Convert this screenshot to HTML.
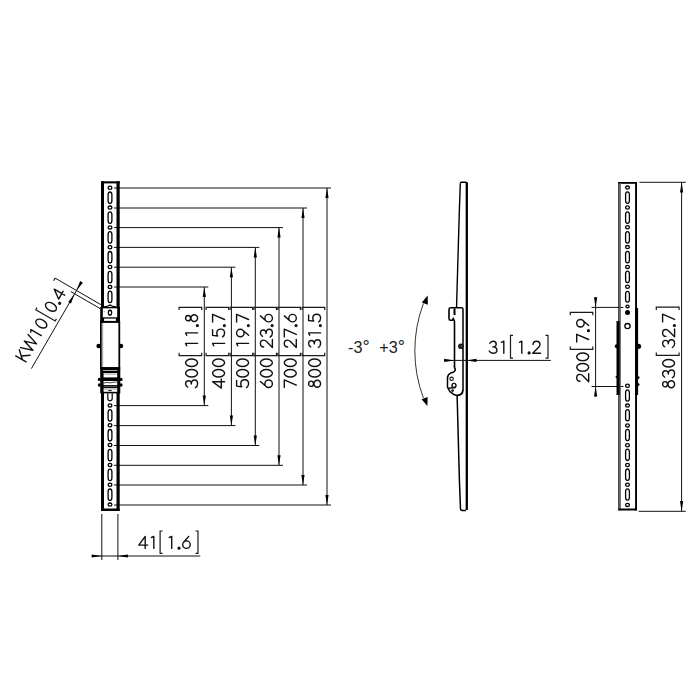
<!DOCTYPE html>
<html><head><meta charset="utf-8"><style>
html,body{margin:0;padding:0;background:#fff;}
svg{display:block;font-family:"Liberation Sans",sans-serif;font-kerning:none;}
</style></head><body>
<svg width="700" height="700" viewBox="0 0 700 700">
<rect width="700" height="700" fill="#fff"/>
<line x1="114" y1="188.0" x2="331.0" y2="188.0" stroke="#111" stroke-width="1"/>
<line x1="114" y1="505.0" x2="331.0" y2="505.0" stroke="#111" stroke-width="1"/>
<line x1="327.0" y1="188.0" x2="327.0" y2="505.0" stroke="#111" stroke-width="1"/>
<path d="M327.00,188.00 L328.60,198.00 L325.40,198.00 Z" fill="#000"/>
<path d="M327.00,505.00 L325.40,495.00 L328.60,495.00 Z" fill="#000"/>
<line x1="114" y1="208.0" x2="307.0" y2="208.0" stroke="#111" stroke-width="1"/>
<line x1="114" y1="485.0" x2="307.0" y2="485.0" stroke="#111" stroke-width="1"/>
<line x1="303.0" y1="208.0" x2="303.0" y2="485.0" stroke="#111" stroke-width="1"/>
<path d="M303.00,208.00 L304.60,218.00 L301.40,218.00 Z" fill="#000"/>
<path d="M303.00,485.00 L301.40,475.00 L304.60,475.00 Z" fill="#000"/>
<line x1="114" y1="227.6" x2="283.0" y2="227.6" stroke="#111" stroke-width="1"/>
<line x1="114" y1="465.3" x2="283.0" y2="465.3" stroke="#111" stroke-width="1"/>
<line x1="279.0" y1="227.6" x2="279.0" y2="465.3" stroke="#111" stroke-width="1"/>
<path d="M279.00,227.60 L280.60,237.60 L277.40,237.60 Z" fill="#000"/>
<path d="M279.00,465.30 L277.40,455.30 L280.60,455.30 Z" fill="#000"/>
<line x1="114" y1="247.4" x2="259.3" y2="247.4" stroke="#111" stroke-width="1"/>
<line x1="114" y1="445.5" x2="259.3" y2="445.5" stroke="#111" stroke-width="1"/>
<line x1="255.3" y1="247.4" x2="255.3" y2="445.5" stroke="#111" stroke-width="1"/>
<path d="M255.30,247.40 L256.90,257.40 L253.70,257.40 Z" fill="#000"/>
<path d="M255.30,445.50 L253.70,435.50 L256.90,435.50 Z" fill="#000"/>
<line x1="114" y1="267.2" x2="235.4" y2="267.2" stroke="#111" stroke-width="1"/>
<line x1="114" y1="425.6" x2="235.4" y2="425.6" stroke="#111" stroke-width="1"/>
<line x1="231.4" y1="267.2" x2="231.4" y2="425.6" stroke="#111" stroke-width="1"/>
<path d="M231.40,267.20 L233.00,277.20 L229.80,277.20 Z" fill="#000"/>
<path d="M231.40,425.60 L229.80,415.60 L233.00,415.60 Z" fill="#000"/>
<line x1="114" y1="287.0" x2="208.3" y2="287.0" stroke="#111" stroke-width="1"/>
<line x1="114" y1="405.6" x2="208.3" y2="405.6" stroke="#111" stroke-width="1"/>
<line x1="204.3" y1="287.0" x2="204.3" y2="405.6" stroke="#111" stroke-width="1"/>
<path d="M204.30,287.00 L205.90,297.00 L202.70,297.00 Z" fill="#000"/>
<path d="M204.30,405.60 L202.70,395.60 L205.90,395.60 Z" fill="#000"/>
<rect x="101" y="181.3" width="18.7" height="2.1" fill="#000"/>
<rect x="101" y="181.3" width="3" height="127" fill="#000"/>
<rect x="116.5" y="181.3" width="3.2" height="127" fill="#000"/>
<rect x="101" y="393" width="3" height="118" fill="#000"/>
<rect x="116.5" y="393" width="3.2" height="118" fill="#000"/>
<rect x="101" y="508.6" width="18.7" height="2.4" rx="1" fill="#000"/>
<ellipse cx="110" cy="187.7" rx="1.9" ry="1.615" fill="#fff" stroke="#000" stroke-width="1.3"/>
<rect x="108.1" y="192.0" width="3.8" height="11.5" rx="1.9" ry="2.9" fill="#fff" stroke="#000" stroke-width="1.3"/>
<ellipse cx="110" cy="207.6" rx="1.9" ry="1.615" fill="#fff" stroke="#000" stroke-width="1.3"/>
<rect x="108.1" y="211.9" width="3.8" height="11.5" rx="1.9" ry="2.9" fill="#fff" stroke="#000" stroke-width="1.3"/>
<ellipse cx="110" cy="227.4" rx="1.9" ry="1.615" fill="#fff" stroke="#000" stroke-width="1.3"/>
<rect x="108.1" y="231.70000000000002" width="3.8" height="11.5" rx="1.9" ry="2.9" fill="#fff" stroke="#000" stroke-width="1.3"/>
<ellipse cx="110" cy="247.2" rx="1.9" ry="1.615" fill="#fff" stroke="#000" stroke-width="1.3"/>
<rect x="108.1" y="251.5" width="3.8" height="11.5" rx="1.9" ry="2.9" fill="#fff" stroke="#000" stroke-width="1.3"/>
<ellipse cx="110" cy="267.0" rx="1.9" ry="1.615" fill="#fff" stroke="#000" stroke-width="1.3"/>
<rect x="108.1" y="271.3" width="3.8" height="11.5" rx="1.9" ry="2.9" fill="#fff" stroke="#000" stroke-width="1.3"/>
<ellipse cx="110" cy="286.9" rx="1.9" ry="1.615" fill="#fff" stroke="#000" stroke-width="1.3"/>
<rect x="108.1" y="291.2" width="3.8" height="11.5" rx="1.9" ry="2.9" fill="#fff" stroke="#000" stroke-width="1.3"/>
<ellipse cx="110" cy="405.4" rx="1.9" ry="1.615" fill="#fff" stroke="#000" stroke-width="1.3"/>
<ellipse cx="110" cy="425.2" rx="1.9" ry="1.615" fill="#fff" stroke="#000" stroke-width="1.3"/>
<ellipse cx="110" cy="445.0" rx="1.9" ry="1.615" fill="#fff" stroke="#000" stroke-width="1.3"/>
<ellipse cx="110" cy="464.9" rx="1.9" ry="1.615" fill="#fff" stroke="#000" stroke-width="1.3"/>
<ellipse cx="110" cy="484.7" rx="1.9" ry="1.615" fill="#fff" stroke="#000" stroke-width="1.3"/>
<ellipse cx="110" cy="504.6" rx="1.9" ry="1.615" fill="#fff" stroke="#000" stroke-width="1.3"/>
<rect x="108.1" y="409.7" width="3.8" height="11.5" rx="1.9" ry="2.9" fill="#fff" stroke="#000" stroke-width="1.3"/>
<rect x="108.1" y="429.5" width="3.8" height="11.5" rx="1.9" ry="2.9" fill="#fff" stroke="#000" stroke-width="1.3"/>
<rect x="108.1" y="449.3" width="3.8" height="11.5" rx="1.9" ry="2.9" fill="#fff" stroke="#000" stroke-width="1.3"/>
<rect x="108.1" y="469.2" width="3.8" height="11.5" rx="1.9" ry="2.9" fill="#fff" stroke="#000" stroke-width="1.3"/>
<rect x="108.1" y="489.0" width="3.8" height="11.5" rx="1.9" ry="2.9" fill="#fff" stroke="#000" stroke-width="1.3"/>
<path d="M107.8,393.4 L107.8,398.6 A2.2,2.2 0 0 0 112.2,398.6 L112.2,393.4" fill="#fff" stroke="#000" stroke-width="1.2"/>
<path d="M103.8,306.8 Q108,306.5 110,304.9 Q112,306.5 116.2,306.8" fill="none" stroke="#000" stroke-width="1.3"/>
<rect x="100.2" y="306.9" width="19.8" height="15.3" fill="#000"/>
<rect x="102.8" y="308.3" width="14.4" height="9.0" fill="#fff"/>
<rect x="104.1" y="318.6" width="11.8" height="2.3" fill="#fff"/>
<ellipse cx="110" cy="312.7" rx="1.65" ry="2.45" fill="none" stroke="#000" stroke-width="1.3"/>
<path d="M104.0,311.2 L104.6,312.2" stroke="#555" stroke-width="0.8"/>
<rect x="100.9" y="322" width="18.4" height="46" fill="#fff" stroke="#000" stroke-width="1.8"/>
<rect x="101.8" y="323" width="1.4" height="44" fill="#aaa"/>
<circle cx="98.6" cy="346" r="2.2" fill="#000"/>
<circle cx="121.0" cy="346" r="2.2" fill="#000"/>
<rect x="100.2" y="367.4" width="20.1" height="26.0" fill="#000"/>
<rect x="103.0" y="370.1" width="14.4" height="0.9" fill="#bbb"/>
<rect x="103.6" y="373.1" width="13.6" height="4.3" fill="#fff"/>
<rect x="104.5" y="373.8" width="12" height="0.7" fill="#888"/>
<rect x="103.6" y="381.0" width="13.6" height="4.1" fill="#fff"/>
<path d="M103.6,383.2 Q106,382.0 108,382.6 T113,382.4 T117.2,382.2" fill="none" stroke="#333" stroke-width="0.9"/>
<rect x="103.6" y="386.5" width="13.6" height="0.6" fill="#999"/>
<rect x="103.6" y="388.2" width="13.6" height="3.6" fill="#fff"/>
<rect x="104" y="388.8" width="12.8" height="0.7" fill="#999"/>
<rect x="108.3" y="390.0" width="3.4" height="1.1" fill="#222"/>
<ellipse cx="99.3" cy="379.4" rx="1.5" ry="1.7" fill="#000"/><ellipse cx="121.1" cy="379.4" rx="1.5" ry="1.7" fill="#000"/>
<ellipse cx="99.3" cy="385.0" rx="1.5" ry="1.7" fill="#000"/><ellipse cx="121.1" cy="385.0" rx="1.5" ry="1.7" fill="#000"/>
<g transform="translate(198.20000000000002,389.0) rotate(-90)"><g aria-label="300" fill="none" stroke="#111" stroke-width="1.4" stroke-linecap="round" stroke-linejoin="round"><path transform="translate(0.00,0) scale(1.0)" d="M1.9,-10.5 C2.5,-11.8 3.7,-12.6 5.2,-12.6 C7.0,-12.6 8.3,-11.3 8.3,-9.6 C8.3,-7.9 6.9,-6.9 4.9,-6.9 C7.5,-6.9 9.0,-5.4 9.0,-3.6 C9.0,-1.7 7.4,-0.62 5.2,-0.62 C3.4,-0.62 2.0,-1.4 1.3,-2.8"/><path transform="translate(10.50,0) scale(1.0)" d="M1.45,-6.61 A3.80,5.99 0 1 0 9.05,-6.61 A3.80,5.99 0 1 0 1.45,-6.61 Z"/><path transform="translate(21.00,0) scale(1.0)" d="M1.45,-6.61 A3.80,5.99 0 1 0 9.05,-6.61 A3.80,5.99 0 1 0 1.45,-6.61 Z"/></g></g>
<g transform="translate(198.20000000000002,348.8) rotate(-90)"><g aria-label="11.8" fill="none" stroke="#111" stroke-width="1.4" stroke-linecap="round" stroke-linejoin="round"><path transform="translate(0.00,0) scale(1.0)" d="M5.4,-0.62 L5.4,-12.6 L3.0,-11.5"/><path transform="translate(10.50,0) scale(1.0)" d="M5.4,-0.62 L5.4,-12.6 L3.0,-11.5"/><circle cx="23.20" cy="-0.85" r="0.90" fill="#111"/><path transform="translate(25.40,0) scale(1.0)" d="M2.60,-10.15 A2.65,2.45 0 1 0 7.90,-10.15 A2.65,2.45 0 1 0 2.60,-10.15 Z M1.80,-3.95 A3.45,3.33 0 1 0 8.70,-3.95 A3.45,3.33 0 1 0 1.80,-3.95 Z"/></g></g>
<path d="M179.10000000000002,310.1 L179.10000000000002,307.3 L201.70000000000002,307.3 L201.70000000000002,310.1" fill="none" stroke="#1a1a1a" stroke-width="1.2"/>
<path d="M179.10000000000002,352.8 L179.10000000000002,355.6 L201.70000000000002,355.6 L201.70000000000002,352.8" fill="none" stroke="#1a1a1a" stroke-width="1.2"/>
<g transform="translate(225.20000000000002,389.0) rotate(-90)"><g aria-label="400" fill="none" stroke="#111" stroke-width="1.4" stroke-linecap="round" stroke-linejoin="round"><path transform="translate(0.00,0) scale(1.0)" d="M7.3,-0.62 L7.3,-12.6 L0.9,-3.9 L9.9,-3.9"/><path transform="translate(10.50,0) scale(1.0)" d="M1.45,-6.61 A3.80,5.99 0 1 0 9.05,-6.61 A3.80,5.99 0 1 0 1.45,-6.61 Z"/><path transform="translate(21.00,0) scale(1.0)" d="M1.45,-6.61 A3.80,5.99 0 1 0 9.05,-6.61 A3.80,5.99 0 1 0 1.45,-6.61 Z"/></g></g>
<g transform="translate(225.20000000000002,348.8) rotate(-90)"><g aria-label="15.7" fill="none" stroke="#111" stroke-width="1.4" stroke-linecap="round" stroke-linejoin="round"><path transform="translate(0.00,0) scale(1.0)" d="M5.4,-0.62 L5.4,-12.6 L3.0,-11.5"/><path transform="translate(10.50,0) scale(1.0)" d="M8.5,-12.6 L2.9,-12.6 L2.3,-7.5 C3.1,-8.1 4.2,-8.4 5.3,-8.4 C7.6,-8.4 9.2,-6.7 9.2,-4.5 C9.2,-2.2 7.5,-0.62 5.2,-0.62 C3.5,-0.62 2.2,-1.4 1.4,-2.6"/><circle cx="23.20" cy="-0.85" r="0.90" fill="#111"/><path transform="translate(25.40,0) scale(1.0)" d="M1.4,-12.6 L9.1,-12.6 L3.9,-0.62"/></g></g>
<path d="M206.10000000000002,310.1 L206.10000000000002,307.3 L228.70000000000002,307.3 L228.70000000000002,310.1" fill="none" stroke="#1a1a1a" stroke-width="1.2"/>
<path d="M206.10000000000002,352.8 L206.10000000000002,355.6 L228.70000000000002,355.6 L228.70000000000002,352.8" fill="none" stroke="#1a1a1a" stroke-width="1.2"/>
<g transform="translate(249.20000000000002,389.0) rotate(-90)"><g aria-label="500" fill="none" stroke="#111" stroke-width="1.4" stroke-linecap="round" stroke-linejoin="round"><path transform="translate(0.00,0) scale(1.0)" d="M8.5,-12.6 L2.9,-12.6 L2.3,-7.5 C3.1,-8.1 4.2,-8.4 5.3,-8.4 C7.6,-8.4 9.2,-6.7 9.2,-4.5 C9.2,-2.2 7.5,-0.62 5.2,-0.62 C3.5,-0.62 2.2,-1.4 1.4,-2.6"/><path transform="translate(10.50,0) scale(1.0)" d="M1.45,-6.61 A3.80,5.99 0 1 0 9.05,-6.61 A3.80,5.99 0 1 0 1.45,-6.61 Z"/><path transform="translate(21.00,0) scale(1.0)" d="M1.45,-6.61 A3.80,5.99 0 1 0 9.05,-6.61 A3.80,5.99 0 1 0 1.45,-6.61 Z"/></g></g>
<g transform="translate(249.20000000000002,348.8) rotate(-90)"><g aria-label="19.7" fill="none" stroke="#111" stroke-width="1.4" stroke-linecap="round" stroke-linejoin="round"><path transform="translate(0.00,0) scale(1.0)" d="M5.4,-0.62 L5.4,-12.6 L3.0,-11.5"/><path transform="translate(10.50,0) scale(1.0)" d="M1.50,-8.87 A3.75,3.75 0 1 0 9.00,-8.87 A3.75,3.75 0 1 0 1.50,-8.87 Z M3.0,-0.62 L8.07,-6.40"/><circle cx="23.20" cy="-0.85" r="0.90" fill="#111"/><path transform="translate(25.40,0) scale(1.0)" d="M1.4,-12.6 L9.1,-12.6 L3.9,-0.62"/></g></g>
<path d="M230.10000000000002,310.1 L230.10000000000002,307.3 L252.70000000000002,307.3 L252.70000000000002,310.1" fill="none" stroke="#1a1a1a" stroke-width="1.2"/>
<path d="M230.10000000000002,352.8 L230.10000000000002,355.6 L252.70000000000002,355.6 L252.70000000000002,352.8" fill="none" stroke="#1a1a1a" stroke-width="1.2"/>
<g transform="translate(273.0,389.0) rotate(-90)"><g aria-label="600" fill="none" stroke="#111" stroke-width="1.4" stroke-linecap="round" stroke-linejoin="round"><path transform="translate(0.00,0) scale(1.0)" d="M1.50,-4.35 A3.75,3.75 0 1 0 9.00,-4.35 A3.75,3.75 0 1 0 1.50,-4.35 Z M7.5,-12.6 L2.43,-6.82"/><path transform="translate(10.50,0) scale(1.0)" d="M1.45,-6.61 A3.80,5.99 0 1 0 9.05,-6.61 A3.80,5.99 0 1 0 1.45,-6.61 Z"/><path transform="translate(21.00,0) scale(1.0)" d="M1.45,-6.61 A3.80,5.99 0 1 0 9.05,-6.61 A3.80,5.99 0 1 0 1.45,-6.61 Z"/></g></g>
<g transform="translate(273.0,348.8) rotate(-90)"><g aria-label="23.6" fill="none" stroke="#111" stroke-width="1.4" stroke-linecap="round" stroke-linejoin="round"><path transform="translate(0.00,0) scale(1.0)" d="M1.8,-9.3 C1.8,-11.3 3.3,-12.6 5.25,-12.6 C7.2,-12.6 8.7,-11.2 8.7,-9.3 C8.7,-8.2 8.2,-7.4 7.3,-6.5 L1.4,-0.62 L9.3,-0.62"/><path transform="translate(10.50,0) scale(1.0)" d="M1.9,-10.5 C2.5,-11.8 3.7,-12.6 5.2,-12.6 C7.0,-12.6 8.3,-11.3 8.3,-9.6 C8.3,-7.9 6.9,-6.9 4.9,-6.9 C7.5,-6.9 9.0,-5.4 9.0,-3.6 C9.0,-1.7 7.4,-0.62 5.2,-0.62 C3.4,-0.62 2.0,-1.4 1.3,-2.8"/><circle cx="23.20" cy="-0.85" r="0.90" fill="#111"/><path transform="translate(25.40,0) scale(1.0)" d="M1.50,-4.35 A3.75,3.75 0 1 0 9.00,-4.35 A3.75,3.75 0 1 0 1.50,-4.35 Z M7.5,-12.6 L2.43,-6.82"/></g></g>
<path d="M253.90000000000003,310.1 L253.90000000000003,307.3 L276.5,307.3 L276.5,310.1" fill="none" stroke="#1a1a1a" stroke-width="1.2"/>
<path d="M253.90000000000003,352.8 L253.90000000000003,355.6 L276.5,355.6 L276.5,352.8" fill="none" stroke="#1a1a1a" stroke-width="1.2"/>
<g transform="translate(296.9,389.0) rotate(-90)"><g aria-label="700" fill="none" stroke="#111" stroke-width="1.4" stroke-linecap="round" stroke-linejoin="round"><path transform="translate(0.00,0) scale(1.0)" d="M1.4,-12.6 L9.1,-12.6 L3.9,-0.62"/><path transform="translate(10.50,0) scale(1.0)" d="M1.45,-6.61 A3.80,5.99 0 1 0 9.05,-6.61 A3.80,5.99 0 1 0 1.45,-6.61 Z"/><path transform="translate(21.00,0) scale(1.0)" d="M1.45,-6.61 A3.80,5.99 0 1 0 9.05,-6.61 A3.80,5.99 0 1 0 1.45,-6.61 Z"/></g></g>
<g transform="translate(296.9,348.8) rotate(-90)"><g aria-label="27.6" fill="none" stroke="#111" stroke-width="1.4" stroke-linecap="round" stroke-linejoin="round"><path transform="translate(0.00,0) scale(1.0)" d="M1.8,-9.3 C1.8,-11.3 3.3,-12.6 5.25,-12.6 C7.2,-12.6 8.7,-11.2 8.7,-9.3 C8.7,-8.2 8.2,-7.4 7.3,-6.5 L1.4,-0.62 L9.3,-0.62"/><path transform="translate(10.50,0) scale(1.0)" d="M1.4,-12.6 L9.1,-12.6 L3.9,-0.62"/><circle cx="23.20" cy="-0.85" r="0.90" fill="#111"/><path transform="translate(25.40,0) scale(1.0)" d="M1.50,-4.35 A3.75,3.75 0 1 0 9.00,-4.35 A3.75,3.75 0 1 0 1.50,-4.35 Z M7.5,-12.6 L2.43,-6.82"/></g></g>
<path d="M277.8,310.1 L277.8,307.3 L300.4,307.3 L300.4,310.1" fill="none" stroke="#1a1a1a" stroke-width="1.2"/>
<path d="M277.8,352.8 L277.8,355.6 L300.4,355.6 L300.4,352.8" fill="none" stroke="#1a1a1a" stroke-width="1.2"/>
<g transform="translate(321.2,389.0) rotate(-90)"><g aria-label="800" fill="none" stroke="#111" stroke-width="1.4" stroke-linecap="round" stroke-linejoin="round"><path transform="translate(0.00,0) scale(1.0)" d="M2.60,-10.15 A2.65,2.45 0 1 0 7.90,-10.15 A2.65,2.45 0 1 0 2.60,-10.15 Z M1.80,-3.95 A3.45,3.33 0 1 0 8.70,-3.95 A3.45,3.33 0 1 0 1.80,-3.95 Z"/><path transform="translate(10.50,0) scale(1.0)" d="M1.45,-6.61 A3.80,5.99 0 1 0 9.05,-6.61 A3.80,5.99 0 1 0 1.45,-6.61 Z"/><path transform="translate(21.00,0) scale(1.0)" d="M1.45,-6.61 A3.80,5.99 0 1 0 9.05,-6.61 A3.80,5.99 0 1 0 1.45,-6.61 Z"/></g></g>
<g transform="translate(321.2,348.8) rotate(-90)"><g aria-label="31.5" fill="none" stroke="#111" stroke-width="1.4" stroke-linecap="round" stroke-linejoin="round"><path transform="translate(0.00,0) scale(1.0)" d="M1.9,-10.5 C2.5,-11.8 3.7,-12.6 5.2,-12.6 C7.0,-12.6 8.3,-11.3 8.3,-9.6 C8.3,-7.9 6.9,-6.9 4.9,-6.9 C7.5,-6.9 9.0,-5.4 9.0,-3.6 C9.0,-1.7 7.4,-0.62 5.2,-0.62 C3.4,-0.62 2.0,-1.4 1.3,-2.8"/><path transform="translate(10.50,0) scale(1.0)" d="M5.4,-0.62 L5.4,-12.6 L3.0,-11.5"/><circle cx="23.20" cy="-0.85" r="0.90" fill="#111"/><path transform="translate(25.40,0) scale(1.0)" d="M8.5,-12.6 L2.9,-12.6 L2.3,-7.5 C3.1,-8.1 4.2,-8.4 5.3,-8.4 C7.6,-8.4 9.2,-6.7 9.2,-4.5 C9.2,-2.2 7.5,-0.62 5.2,-0.62 C3.5,-0.62 2.2,-1.4 1.4,-2.6"/></g></g>
<path d="M302.1,310.1 L302.1,307.3 L324.7,307.3 L324.7,310.1" fill="none" stroke="#1a1a1a" stroke-width="1.2"/>
<path d="M302.1,352.8 L302.1,355.6 L324.7,355.6 L324.7,352.8" fill="none" stroke="#1a1a1a" stroke-width="1.2"/>
<line x1="101.8" y1="514" x2="101.8" y2="560" stroke="#111" stroke-width="1"/>
<line x1="117.9" y1="514" x2="117.9" y2="560" stroke="#111" stroke-width="1"/>
<line x1="91.5" y1="556" x2="200.3" y2="556" stroke="#111" stroke-width="1"/>
<path d="M101.80,556.00 L91.80,557.60 L91.80,554.40 Z" fill="#000"/>
<path d="M117.90,556.00 L127.90,554.40 L127.90,557.60 Z" fill="#000"/>
<g transform="translate(137.9,549.0)"><g aria-label="41" fill="none" stroke="#111" stroke-width="1.4" stroke-linecap="round" stroke-linejoin="round"><path transform="translate(0.00,0) scale(1.0)" d="M7.3,-0.62 L7.3,-12.6 L0.9,-3.9 L9.9,-3.9"/><path transform="translate(10.50,0) scale(1.0)" d="M5.4,-0.62 L5.4,-12.6 L3.0,-11.5"/></g></g>
<g transform="translate(166.3,549.0)"><g aria-label="1.6" fill="none" stroke="#111" stroke-width="1.4" stroke-linecap="round" stroke-linejoin="round"><path transform="translate(0.00,0) scale(1.0)" d="M5.4,-0.62 L5.4,-12.6 L3.0,-11.5"/><circle cx="12.70" cy="-0.85" r="0.90" fill="#111"/><path transform="translate(14.90,0) scale(1.0)" d="M1.50,-4.35 A3.75,3.75 0 1 0 9.00,-4.35 A3.75,3.75 0 1 0 1.50,-4.35 Z M7.5,-12.6 L2.43,-6.82"/></g></g>
<path d="M162.6,531.0 L160.1,531.0 L160.1,553.3 L162.6,553.3" fill="none" stroke="#1a1a1a" stroke-width="1.2"/>
<path d="M195.5,531.0 L198.0,531.0 L198.0,553.3 L195.5,553.3" fill="none" stroke="#1a1a1a" stroke-width="1.2"/>
<line x1="31.4" y1="368.6" x2="81.4" y2="282.1" stroke="#111" stroke-width="1"/>
<line x1="55.1" y1="278.1" x2="100.8" y2="304.6" stroke="#111" stroke-width="1"/>
<path d="M55.1,278.1 L53.6,280.7" stroke="#1a1a1a" stroke-width="1.2"/>
<line x1="70.8" y1="291.6" x2="100.0" y2="308.5" stroke="#111" stroke-width="1"/>
<path d="M76.50,290.60 L80.11,281.10 L82.89,282.70 Z" fill="#000"/>
<path d="M74.60,294.00 L70.99,303.50 L68.21,301.90 Z" fill="#000"/>
<g transform="translate(31.4,368.6) rotate(-60)">
<g transform="translate(1.6,-7.3)"><g aria-label="KW10" fill="none" stroke="#111" stroke-width="1.4" stroke-linecap="round" stroke-linejoin="round"><path transform="translate(0.00,0) scale(1.0)" d="M1.5,-0.62 L1.5,-12.6 M8.7,-12.6 L1.5,-4.9 M4.3,-7.6 L9.3,-0.62"/><path transform="translate(10.80,0) scale(1.0)" d="M0.4,-12.6 L4.2,-0.62 L7.9,-12.6 L11.6,-0.62 L15.4,-12.6"/><path transform="translate(26.60,0) scale(1.0)" d="M5.4,-0.62 L5.4,-12.6 L3.0,-11.5"/><path transform="translate(37.10,0) scale(1.0)" d="M1.45,-6.61 A3.80,5.99 0 1 0 9.05,-6.61 A3.80,5.99 0 1 0 1.45,-6.61 Z"/></g></g>
<g transform="translate(58.0,-7.3)"><g aria-label="0.4" fill="none" stroke="#111" stroke-width="1.4" stroke-linecap="round" stroke-linejoin="round"><path transform="translate(0.00,0) scale(1.0)" d="M1.45,-6.61 A3.80,5.99 0 1 0 9.05,-6.61 A3.80,5.99 0 1 0 1.45,-6.61 Z"/><circle cx="12.70" cy="-0.85" r="0.90" fill="#111"/><path transform="translate(14.90,0) scale(1.0)" d="M7.3,-0.62 L7.3,-12.6 L0.9,-3.9 L9.9,-3.9"/></g></g>
<path d="M55.6,-3.2 L53.2,-3.2 L53.2,-25.6 L55.6,-25.6" fill="none" stroke="#1a1a1a" stroke-width="1.2"/>
</g>
<path d="M460.3,183.5 Q460.3,182.2 461.6,182.2 L465.5,182.2 Q467,182.2 467,183.5" fill="none" stroke="#000" stroke-width="1.5"/>
<line x1="466.8" y1="182.5" x2="466.8" y2="510" stroke="#000" stroke-width="2.3"/>
<path d="M460.3,183.5 L459.3,212 L456.6,305 L456.6,308" fill="none" stroke="#000" stroke-width="1.4"/>
<path d="M457.1,395 L459.4,480 L460.5,509 Q460.8,510.4 462,510.4 L466,510.4" fill="none" stroke="#000" stroke-width="1.5"/>
<path d="M456.6,307.8 L450.5,307.8 Q449,307.8 449,309.5 L449,318.5 Q449,320.2 450.6,320.2 L452.4,320.2 L453.2,318.6 L454.2,320.4 L454.5,321.5 L454.5,367" fill="none" stroke="#000" stroke-width="1.6"/>
<path d="M456.6,307.8 L461.5,307.8 Q463,307.8 463,309.5 L463,390 Q463,395 457,395.5" fill="none" stroke="#000" stroke-width="1.5"/>
<path d="M454.5,308.5 L454.5,315" stroke="#000" stroke-width="2"/>
<circle cx="460.9" cy="346.2" r="2.8" fill="#1a1a1a"/><circle cx="461.3" cy="346.3" r="0.9" fill="#666"/>
<path d="M454.5,366 L454.5,367.5 Q456.2,370 454.2,371.6 Q452.6,372.6 450.6,373.1 Q447.5,374.5 447.5,378 L447.5,384.5 Q447.0,387 448.4,389 Q449.5,391.6 451.8,393 Q454,395.4 457.4,395.4 Q462.2,395 462.8,390" fill="none" stroke="#000" stroke-width="1.5"/>
<circle cx="451.6" cy="378.8" r="1.7" fill="none" stroke="#111" stroke-width="1.1"/>
<circle cx="454.0" cy="385.4" r="2.0" fill="none" stroke="#111" stroke-width="1.4"/>
<path d="M448.5,388.2 Q451,387.6 455.5,387.8" fill="none" stroke="#111" stroke-width="1.5"/>
<circle cx="452.6" cy="390.6" r="1.3" fill="#111"/>
<line x1="444.0" y1="360.4" x2="550.8" y2="360.4" stroke="#111" stroke-width="1"/>
<path d="M454.40,360.40 L444.20,362.00 L444.20,358.80 Z" fill="#000"/>
<path d="M466.50,360.40 L476.50,358.80 L476.50,362.00 Z" fill="#000"/>
<g transform="translate(487.9,353.8)"><g aria-label="31" fill="none" stroke="#111" stroke-width="1.4" stroke-linecap="round" stroke-linejoin="round"><path transform="translate(0.00,0) scale(1.0)" d="M1.9,-10.5 C2.5,-11.8 3.7,-12.6 5.2,-12.6 C7.0,-12.6 8.3,-11.3 8.3,-9.6 C8.3,-7.9 6.9,-6.9 4.9,-6.9 C7.5,-6.9 9.0,-5.4 9.0,-3.6 C9.0,-1.7 7.4,-0.62 5.2,-0.62 C3.4,-0.62 2.0,-1.4 1.3,-2.8"/><path transform="translate(10.50,0) scale(1.0)" d="M5.4,-0.62 L5.4,-12.6 L3.0,-11.5"/></g></g>
<g transform="translate(516.4,353.8)"><g aria-label="1.2" fill="none" stroke="#111" stroke-width="1.4" stroke-linecap="round" stroke-linejoin="round"><path transform="translate(0.00,0) scale(1.0)" d="M5.4,-0.62 L5.4,-12.6 L3.0,-11.5"/><circle cx="12.70" cy="-0.85" r="0.90" fill="#111"/><path transform="translate(14.90,0) scale(1.0)" d="M1.8,-9.3 C1.8,-11.3 3.3,-12.6 5.25,-12.6 C7.2,-12.6 8.7,-11.2 8.7,-9.3 C8.7,-8.2 8.2,-7.4 7.3,-6.5 L1.4,-0.62 L9.3,-0.62"/></g></g>
<path d="M513.0,335.4 L510.5,335.4 L510.5,358.1 L513.0,358.1" fill="none" stroke="#1a1a1a" stroke-width="1.2"/>
<path d="M545.5,335.4 L548.0,335.4 L548.0,358.1 L545.5,358.1" fill="none" stroke="#1a1a1a" stroke-width="1.2"/>
<path d="M423.4,303.5 A134.2,134.2 0 0 0 423.4,397.9" fill="none" stroke="#333" stroke-width="1"/>
<path d="M427.70,295.40 L427.86,304.68 L421.74,302.52 Z" fill="#000"/>
<path d="M427.40,406.00 L421.54,399.30 L427.66,397.10 Z" fill="#000"/>
<text x="348" y="352.6" font-size="16.2" fill="#222">-3<tspan font-size="18" dy="0.4">°</tspan></text>
<text x="379.3" y="352.6" font-size="16.2" fill="#222">+3<tspan font-size="18" dy="0.4">°</tspan></text>
<line x1="639.4" y1="182.3" x2="685.7" y2="182.3" stroke="#111" stroke-width="1"/>
<line x1="638.6" y1="511.3" x2="685.7" y2="511.3" stroke="#111" stroke-width="1"/>
<line x1="681.6" y1="182.3" x2="681.6" y2="511.3" stroke="#111" stroke-width="1"/>
<path d="M681.60,182.30 L683.20,192.60 L680.00,192.60 Z" fill="#000"/>
<path d="M681.60,511.30 L680.00,501.00 L683.20,501.00 Z" fill="#000"/>
<line x1="591.6" y1="307.4" x2="623.4" y2="307.4" stroke="#111" stroke-width="1"/>
<line x1="591.6" y1="386.5" x2="623.4" y2="386.5" stroke="#111" stroke-width="1"/>
<line x1="595.6" y1="297.3" x2="595.6" y2="396.5" stroke="#111" stroke-width="1"/>
<path d="M595.60,307.40 L594.00,297.30 L597.20,297.30 Z" fill="#000"/>
<path d="M595.60,386.50 L597.20,396.60 L594.00,396.60 Z" fill="#000"/>
<rect x="618.3" y="182" width="18.6" height="1.8" fill="#000"/>
<rect x="618.3" y="182" width="1.3" height="328.5" fill="#000"/>
<rect x="619.6" y="183" width="1.3" height="326" fill="#666"/>
<rect x="635.1" y="182" width="1.9" height="328.5" fill="#000"/>
<rect x="618.3" y="508.6" width="18.7" height="2" rx="0.8" fill="#000"/>
<rect x="616.5" y="321" width="3.1" height="74" fill="#000"/>
<rect x="635.0" y="308" width="3.1" height="87" fill="#000"/>
<circle cx="616.8" cy="346.3" r="2" fill="#000"/><circle cx="638.5" cy="346.3" r="2.6" fill="#000"/>
<circle cx="638.2" cy="377.6" r="1.3" fill="#000"/>
<circle cx="638.2" cy="384.6" r="1.3" fill="#000"/>
<circle cx="616.6" cy="377.0" r="1.1" fill="#000"/>
<ellipse cx="627.5" cy="187.6" rx="1.9" ry="1.615" fill="#fff" stroke="#000" stroke-width="1.3"/>
<ellipse cx="627.5" cy="207.5" rx="1.9" ry="1.615" fill="#fff" stroke="#000" stroke-width="1.3"/>
<ellipse cx="627.5" cy="227.3" rx="1.9" ry="1.615" fill="#fff" stroke="#000" stroke-width="1.3"/>
<ellipse cx="627.5" cy="247.1" rx="1.9" ry="1.615" fill="#fff" stroke="#000" stroke-width="1.3"/>
<ellipse cx="627.5" cy="266.9" rx="1.9" ry="1.615" fill="#fff" stroke="#000" stroke-width="1.3"/>
<ellipse cx="627.5" cy="286.7" rx="1.9" ry="1.615" fill="#fff" stroke="#000" stroke-width="1.3"/>
<rect x="625.6" y="191.9" width="3.8" height="11.5" rx="1.9" ry="2.9" fill="#fff" stroke="#000" stroke-width="1.3"/>
<rect x="625.6" y="211.8" width="3.8" height="11.5" rx="1.9" ry="2.9" fill="#fff" stroke="#000" stroke-width="1.3"/>
<rect x="625.6" y="231.60000000000002" width="3.8" height="11.5" rx="1.9" ry="2.9" fill="#fff" stroke="#000" stroke-width="1.3"/>
<rect x="625.6" y="251.4" width="3.8" height="11.499999999999972" rx="1.9" ry="2.9" fill="#fff" stroke="#000" stroke-width="1.3"/>
<rect x="625.6" y="271.2" width="3.8" height="11.5" rx="1.9" ry="2.9" fill="#fff" stroke="#000" stroke-width="1.3"/>
<rect x="625.6" y="291.3" width="3.8" height="10.899999999999977" rx="1.9" ry="2.9" fill="#fff" stroke="#000" stroke-width="1.3"/>
<ellipse cx="627.5" cy="306.4" rx="1.6" ry="1.36" fill="#fff" stroke="#000" stroke-width="1.3"/>
<circle cx="627.5" cy="312.4" r="2.5" fill="#000"/>
<circle cx="627.5" cy="326.1" r="2.6" fill="#fff" stroke="#000" stroke-width="1.3"/>
<ellipse cx="627.5" cy="385.8" rx="1.9" ry="1.615" fill="#fff" stroke="#000" stroke-width="1.3"/>
<ellipse cx="627.5" cy="405.6" rx="1.9" ry="1.615" fill="#fff" stroke="#000" stroke-width="1.3"/>
<ellipse cx="627.5" cy="425.4" rx="1.9" ry="1.615" fill="#fff" stroke="#000" stroke-width="1.3"/>
<ellipse cx="627.5" cy="445.2" rx="1.9" ry="1.615" fill="#fff" stroke="#000" stroke-width="1.3"/>
<ellipse cx="627.5" cy="465.0" rx="1.9" ry="1.615" fill="#fff" stroke="#000" stroke-width="1.3"/>
<ellipse cx="627.5" cy="484.8" rx="1.9" ry="1.615" fill="#fff" stroke="#000" stroke-width="1.3"/>
<rect x="625.6" y="389.8" width="3.8" height="11.300000000000011" rx="1.9" ry="2.9" fill="#fff" stroke="#000" stroke-width="1.3"/>
<rect x="625.6" y="409.6" width="3.8" height="11.300000000000011" rx="1.9" ry="2.9" fill="#fff" stroke="#000" stroke-width="1.3"/>
<rect x="625.6" y="429.4" width="3.8" height="11.300000000000011" rx="1.9" ry="2.9" fill="#fff" stroke="#000" stroke-width="1.3"/>
<rect x="625.6" y="449.2" width="3.8" height="11.300000000000011" rx="1.9" ry="2.9" fill="#fff" stroke="#000" stroke-width="1.3"/>
<rect x="625.6" y="469.0" width="3.8" height="11.300000000000011" rx="1.9" ry="2.9" fill="#fff" stroke="#000" stroke-width="1.3"/>
<rect x="625.6" y="488.8" width="3.8" height="11.300000000000011" rx="1.9" ry="2.9" fill="#fff" stroke="#000" stroke-width="1.3"/>
<ellipse cx="627.5" cy="504.9" rx="1.9" ry="1.615" fill="#fff" stroke="#000" stroke-width="1.3"/>
<g transform="translate(675.2,389.5) rotate(-90)"><g aria-label="830" fill="none" stroke="#111" stroke-width="1.4" stroke-linecap="round" stroke-linejoin="round"><path transform="translate(0.00,0) scale(1.0)" d="M2.60,-10.15 A2.65,2.45 0 1 0 7.90,-10.15 A2.65,2.45 0 1 0 2.60,-10.15 Z M1.80,-3.95 A3.45,3.33 0 1 0 8.70,-3.95 A3.45,3.33 0 1 0 1.80,-3.95 Z"/><path transform="translate(10.50,0) scale(1.0)" d="M1.9,-10.5 C2.5,-11.8 3.7,-12.6 5.2,-12.6 C7.0,-12.6 8.3,-11.3 8.3,-9.6 C8.3,-7.9 6.9,-6.9 4.9,-6.9 C7.5,-6.9 9.0,-5.4 9.0,-3.6 C9.0,-1.7 7.4,-0.62 5.2,-0.62 C3.4,-0.62 2.0,-1.4 1.3,-2.8"/><path transform="translate(21.00,0) scale(1.0)" d="M1.45,-6.61 A3.80,5.99 0 1 0 9.05,-6.61 A3.80,5.99 0 1 0 1.45,-6.61 Z"/></g></g>
<g transform="translate(675.2,348.7) rotate(-90)"><g aria-label="32.7" fill="none" stroke="#111" stroke-width="1.4" stroke-linecap="round" stroke-linejoin="round"><path transform="translate(0.00,0) scale(1.0)" d="M1.9,-10.5 C2.5,-11.8 3.7,-12.6 5.2,-12.6 C7.0,-12.6 8.3,-11.3 8.3,-9.6 C8.3,-7.9 6.9,-6.9 4.9,-6.9 C7.5,-6.9 9.0,-5.4 9.0,-3.6 C9.0,-1.7 7.4,-0.62 5.2,-0.62 C3.4,-0.62 2.0,-1.4 1.3,-2.8"/><path transform="translate(10.50,0) scale(1.0)" d="M1.8,-9.3 C1.8,-11.3 3.3,-12.6 5.25,-12.6 C7.2,-12.6 8.7,-11.2 8.7,-9.3 C8.7,-8.2 8.2,-7.4 7.3,-6.5 L1.4,-0.62 L9.3,-0.62"/><circle cx="23.20" cy="-0.85" r="0.90" fill="#111"/><path transform="translate(25.40,0) scale(1.0)" d="M1.4,-12.6 L9.1,-12.6 L3.9,-0.62"/></g></g>
<path d="M656.3,309.90000000000003 L656.3,307.1 L679.1,307.1 L679.1,309.90000000000003" fill="none" stroke="#1a1a1a" stroke-width="1.2"/>
<path d="M656.3,352.59999999999997 L656.3,355.4 L679.1,355.4 L679.1,352.59999999999997" fill="none" stroke="#1a1a1a" stroke-width="1.2"/>
<g transform="translate(589.3,383.1) rotate(-90)"><g aria-label="200" fill="none" stroke="#111" stroke-width="1.4" stroke-linecap="round" stroke-linejoin="round"><path transform="translate(0.00,0) scale(1.0)" d="M1.8,-9.3 C1.8,-11.3 3.3,-12.6 5.25,-12.6 C7.2,-12.6 8.7,-11.2 8.7,-9.3 C8.7,-8.2 8.2,-7.4 7.3,-6.5 L1.4,-0.62 L9.3,-0.62"/><path transform="translate(10.50,0) scale(1.0)" d="M1.45,-6.61 A3.80,5.99 0 1 0 9.05,-6.61 A3.80,5.99 0 1 0 1.45,-6.61 Z"/><path transform="translate(21.00,0) scale(1.0)" d="M1.45,-6.61 A3.80,5.99 0 1 0 9.05,-6.61 A3.80,5.99 0 1 0 1.45,-6.61 Z"/></g></g>
<g transform="translate(589.3,343.4) rotate(-90)"><g aria-label="7.9" fill="none" stroke="#111" stroke-width="1.4" stroke-linecap="round" stroke-linejoin="round"><path transform="translate(0.00,0) scale(1.0)" d="M1.4,-12.6 L9.1,-12.6 L3.9,-0.62"/><circle cx="12.70" cy="-0.85" r="0.90" fill="#111"/><path transform="translate(14.90,0) scale(1.0)" d="M1.50,-8.87 A3.75,3.75 0 1 0 9.00,-8.87 A3.75,3.75 0 1 0 1.50,-8.87 Z M3.0,-0.62 L8.07,-6.40"/></g></g>
<path d="M570.3,315.2 L570.3,312.4 L592.8,312.4 L592.8,315.2" fill="none" stroke="#1a1a1a" stroke-width="1.2"/>
<path d="M570.3,346.59999999999997 L570.3,349.4 L592.8,349.4 L592.8,346.59999999999997" fill="none" stroke="#1a1a1a" stroke-width="1.2"/>
</svg>
</body></html>
